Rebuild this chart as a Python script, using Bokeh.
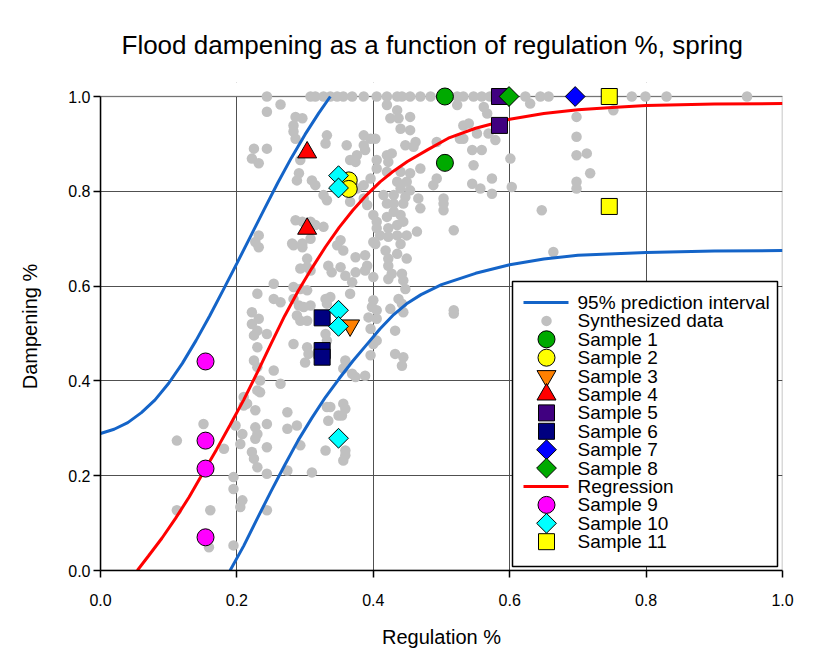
from bokeh.plotting import figure
from bokeh.models import Range1d, FixedTicker, BoxAnnotation, NumeralTickFormatter
from bokeh.core.properties import value
from bokeh.embed import file_html
from bokeh.resources import INLINE
import math

TITLE = "Flood dampening as a function of regulation %, spring"
X_LABEL = "Regulation %"
Y_LABEL = "Dampening %"
TICKS = [0.0, 0.2, 0.4, 0.6, 0.8, 1.0]

# regression curve
reg_x = [0.054, 0.07, 0.09, 0.11, 0.13, 0.15, 0.17, 0.19, 0.21, 0.23, 0.25, 0.27, 0.29,
         0.31, 0.33, 0.35, 0.37, 0.39, 0.41, 0.43, 0.45, 0.48, 0.51, 0.55, 0.60, 0.65,
         0.70, 0.75, 0.80, 0.90, 1.0]
reg_y = [0.0, 0.03, 0.068, 0.11, 0.155, 0.205, 0.255, 0.307, 0.36, 0.418, 0.478, 0.537,
         0.59, 0.638, 0.683, 0.724, 0.76, 0.792, 0.82, 0.843, 0.863, 0.888, 0.912, 0.933,
         0.952, 0.964, 0.972, 0.977, 0.981, 0.984, 0.985]

# 95% prediction interval, upper and lower
up_x = [0.0, 0.02, 0.04, 0.06, 0.08, 0.10, 0.12, 0.14, 0.16, 0.18, 0.20, 0.22, 0.24,
        0.26, 0.28, 0.30, 0.32, 0.337]
up_y = [0.289, 0.298, 0.312, 0.333, 0.36, 0.395, 0.437, 0.485, 0.537, 0.592, 0.648,
        0.705, 0.762, 0.818, 0.871, 0.92, 0.965, 1.0]
lo_x = [0.19, 0.21, 0.23, 0.25, 0.27, 0.29, 0.31, 0.33, 0.35, 0.37, 0.39, 0.41, 0.43,
        0.45, 0.47, 0.50, 0.55, 0.60, 0.65, 0.70, 0.80, 0.90, 1.0]
lo_y = [0.0, 0.052, 0.11, 0.167, 0.222, 0.275, 0.322, 0.366, 0.405, 0.442, 0.476, 0.51,
        0.54, 0.564, 0.582, 0.603, 0.627, 0.645, 0.657, 0.665, 0.671, 0.674, 0.675]

# synthesized data (x, y)
grey_points = [
    # top row
    (0.244, 1.0), (0.308, 1.0), (0.315, 1.0), (0.327, 1.0), (0.337, 1.0), (0.347, 1.0),
    (0.356, 1.0), (0.369, 1.0), (0.386, 1.0), (0.405, 1.0), (0.420, 1.0), (0.435, 1.0),
    (0.442, 1.0), (0.454, 1.0), (0.469, 1.0), (0.484, 1.0), (0.523, 1.0), (0.532, 1.0),
    (0.547, 1.0), (0.559, 1.0), (0.571, 1.0), (0.623, 1.0), (0.645, 1.0), (0.657, 1.0),
    (0.779, 1.0), (0.799, 1.0), (0.830, 1.0), (0.948, 1.0),
    # left cluster, upper
    (0.264, 0.983), (0.244, 0.968), (0.286, 0.957), (0.296, 0.954), (0.283, 0.939),
    (0.283, 0.926), (0.286, 0.911), (0.332, 0.918), (0.330, 0.901),
    (0.225, 0.890), (0.244, 0.890), (0.222, 0.869), (0.232, 0.859),
    (0.293, 0.866), (0.291, 0.838), (0.288, 0.823),
    (0.310, 0.823), (0.315, 0.813), (0.327, 0.792), (0.332, 0.781),
    (0.286, 0.739), (0.296, 0.736), (0.308, 0.736), (0.315, 0.729), (0.327, 0.725),
    (0.232, 0.707), (0.227, 0.693), (0.281, 0.690), (0.296, 0.690), (0.308, 0.700),
    # middle cluster, upper
    (0.420, 0.982), (0.435, 0.971), (0.454, 0.957), (0.425, 0.954), (0.437, 0.954),
    (0.523, 0.982), (0.440, 0.932), (0.454, 0.929),
    (0.386, 0.918), (0.396, 0.911), (0.403, 0.911),
    (0.361, 0.897), (0.386, 0.897), (0.388, 0.887), (0.376, 0.876), (0.366, 0.866),
    (0.374, 0.862), (0.405, 0.866), (0.420, 0.876), (0.427, 0.880), (0.422, 0.862),
    (0.447, 0.897), (0.459, 0.894), (0.462, 0.904), (0.493, 0.904), (0.527, 0.911),
    (0.532, 0.939), (0.405, 0.848), (0.420, 0.841), (0.440, 0.841), (0.454, 0.838),
    (0.469, 0.848), (0.493, 0.827), (0.488, 0.813), (0.435, 0.820), (0.449, 0.820),
    (0.440, 0.806), (0.454, 0.802), (0.396, 0.827), (0.386, 0.813), (0.376, 0.806),
    (0.415, 0.792), (0.430, 0.792), (0.420, 0.774), (0.430, 0.774), (0.447, 0.788),
    (0.444, 0.774), (0.466, 0.785), (0.469, 0.764), (0.503, 0.785), (0.503, 0.774),
    (0.503, 0.760), (0.400, 0.750), (0.405, 0.736), (0.420, 0.746), (0.430, 0.757),
    (0.440, 0.750), (0.444, 0.736), (0.435, 0.729), (0.422, 0.722), (0.405, 0.722),
    (0.391, 0.771), (0.386, 0.785), (0.366, 0.778), (0.410, 0.707), (0.422, 0.704),
    (0.435, 0.707), (0.449, 0.707), (0.464, 0.715), (0.518, 0.718), (0.400, 0.693),
    (0.352, 0.697), (0.347, 0.686),
    # left cluster, middle
    (0.232, 0.682), (0.283, 0.686), (0.296, 0.682), (0.303, 0.658), (0.293, 0.637),
    (0.303, 0.640), (0.308, 0.633), (0.334, 0.643), (0.339, 0.629), (0.254, 0.605),
    (0.283, 0.598), (0.293, 0.594), (0.303, 0.591), (0.230, 0.584), (0.254, 0.573),
    (0.264, 0.566), (0.283, 0.573), (0.291, 0.559), (0.298, 0.556), (0.308, 0.559),
    (0.330, 0.573), (0.332, 0.563), (0.222, 0.545), (0.232, 0.531), (0.222, 0.520),
    (0.230, 0.506), (0.225, 0.496), (0.244, 0.499), (0.288, 0.538), (0.303, 0.527),
    (0.293, 0.527), (0.230, 0.471), (0.283, 0.478), (0.303, 0.471), (0.305, 0.457),
    (0.300, 0.439), (0.330, 0.499), (0.332, 0.485), (0.225, 0.443), (0.230, 0.429),
    (0.254, 0.422), (0.264, 0.394), (0.234, 0.401), (0.210, 0.366), (0.215, 0.352),
    (0.230, 0.380), (0.234, 0.376),
    # middle cluster, middle
    (0.356, 0.675), (0.374, 0.661), (0.352, 0.640), (0.359, 0.622), (0.369, 0.608),
    (0.388, 0.665), (0.391, 0.643), (0.388, 0.633), (0.374, 0.629), (0.403, 0.689),
    (0.400, 0.619), (0.418, 0.675), (0.422, 0.658), (0.435, 0.668), (0.449, 0.658),
    (0.422, 0.643), (0.427, 0.626), (0.422, 0.615), (0.442, 0.626), (0.444, 0.612),
    (0.447, 0.594), (0.440, 0.689), (0.366, 0.584), (0.337, 0.577), (0.400, 0.570),
    (0.398, 0.556), (0.405, 0.549), (0.425, 0.552), (0.437, 0.573), (0.442, 0.563),
    (0.444, 0.545), (0.393, 0.534), (0.405, 0.531), (0.396, 0.510), (0.432, 0.506),
    (0.405, 0.485), (0.400, 0.478), (0.518, 0.549), (0.518, 0.542), (0.396, 0.454),
    (0.432, 0.457), (0.444, 0.450), (0.442, 0.432), (0.359, 0.443), (0.356, 0.426),
    (0.369, 0.415), (0.374, 0.408), (0.388, 0.411), (0.337, 0.345), (0.356, 0.352),
    (0.359, 0.341), (0.354, 0.327), (0.359, 0.253), (0.356, 0.232), (0.359, 0.243),
    # lower left
    (0.151, 0.309), (0.112, 0.274), (0.181, 0.257), (0.198, 0.306), (0.208, 0.288),
    (0.205, 0.267), (0.210, 0.348), (0.227, 0.338), (0.227, 0.302), (0.230, 0.288),
    (0.227, 0.278), (0.244, 0.309), (0.244, 0.260), (0.222, 0.250), (0.225, 0.236),
    (0.230, 0.218), (0.244, 0.204), (0.274, 0.334), (0.274, 0.299), (0.288, 0.306),
    (0.293, 0.264), (0.274, 0.211), (0.310, 0.207), (0.332, 0.345), (0.334, 0.316),
    (0.330, 0.253), (0.349, 0.327), (0.195, 0.197), (0.195, 0.172), (0.208, 0.148),
    (0.205, 0.134), (0.244, 0.127), (0.112, 0.127), (0.161, 0.127), (0.159, 0.049),
    (0.195, 0.053),
    # right side
    (0.562, 0.978), (0.567, 0.964), (0.630, 0.985), (0.698, 0.957), (0.752, 0.971),
    (0.540, 0.943), (0.532, 0.911), (0.552, 0.922), (0.569, 0.922), (0.579, 0.908),
    (0.545, 0.887), (0.559, 0.887), (0.547, 0.855), (0.698, 0.915), (0.698, 0.876),
    (0.713, 0.880), (0.718, 0.838), (0.601, 0.869), (0.545, 0.816), (0.557, 0.806),
    (0.574, 0.827), (0.574, 0.795), (0.603, 0.809), (0.698, 0.820), (0.698, 0.806),
    (0.647, 0.760), (0.664, 0.672),
]
grey_x = [pt[0] for pt in grey_points]
grey_y = [pt[1] for pt in grey_points]

# samples
s1_x, s1_y = [0.505, 0.505], [1.0, 0.86]
s2_x, s2_y = [0.364, 0.364], [0.823, 0.805]
s3_x, s3_y = [0.366], [0.517]
s4_x, s4_y = [0.303, 0.303], [0.882, 0.721]
s5_x, s5_y = [0.585, 0.585], [1.0, 0.939]
s6_x, s6_y = [0.325, 0.325, 0.325], [0.533, 0.464, 0.450]
s7_x, s7_y = [0.696], [1.0]
s8_x, s8_y = [0.599], [1.0]
s9_x, s9_y = [0.154, 0.154, 0.154, 0.154], [0.441, 0.274, 0.215, 0.07]
s10_x, s10_y = [0.349, 0.349, 0.349, 0.349, 0.349], [0.833, 0.807, 0.549, 0.515, 0.279]
s11_x, s11_y = [0.746, 0.746], [1.0, 0.768]

FONT = "Liberation Sans"
BLUE = "#1464C8"
RED = "#FF0000"
GREY = "#C0C0C0"
D = math.pi / 4

# frame geometry (pixels)
FRAME_W, FRAME_H = 682, 488
EXTRA = 14 / 474.0  # headroom above 1.0 so markers on the top edge are not clipped

p = figure(width=815, height=669, output_backend="svg", toolbar_location=None,
           x_range=Range1d(0, 1), y_range=Range1d(0, 1 + EXTRA),
           min_border_left=100, min_border_right=33, min_border_top=82, min_border_bottom=99,
           background_fill_color="white", border_fill_color="white")
p.outline_line_color = None
# pixel ranges for the legend overlay
p.extra_x_ranges = {"px": Range1d(0, FRAME_W)}
p.extra_y_ranges = {"py": Range1d(0, FRAME_H)}

p.title.text = TITLE
p.title.text_font = FONT
p.title.text_font_size = "26px"
p.title.text_font_style = "normal"
p.title.text_color = "black"
p.title.align = "left"
p.title.offset = 21
p.title.standoff = 46

for ax, lab in ((p.xaxis[0], X_LABEL), (p.yaxis[0], Y_LABEL)):
    ax.ticker = FixedTicker(ticks=TICKS)
    ax.formatter = NumeralTickFormatter(format="0.0")
    ax.bounds = (0, 1)
    ax.axis_label = lab
    ax.axis_label_text_font = FONT
    ax.axis_label_text_font_size = "20px"
    ax.axis_label_text_font_style = "normal"
    ax.axis_label_text_color = "black"
    ax.major_label_text_font = FONT
    ax.major_label_text_font_size = "16px"
    ax.major_label_text_color = "black"
    ax.major_tick_out = 7
    ax.major_tick_in = 0
    ax.minor_tick_line_color = None
    ax.axis_line_width = 1.5
    ax.major_tick_line_width = 1.5
p.xaxis.major_label_standoff = 16
p.xaxis.axis_label_standoff = 17
p.yaxis.major_label_standoff = 3
p.yaxis.axis_label_standoff = 24

for g in (p.xgrid[0], p.ygrid[0]):
    g.ticker = FixedTicker(ticks=TICKS)
    g.grid_line_color = "#505050"
    g.grid_line_width = 1

# hide grid in the headroom strip, draw the frame box
p.add_layout(BoxAnnotation(bottom=1.0, fill_color="white", fill_alpha=1.0,
                           line_color=None, level="underlay"))
p.add_layout(BoxAnnotation(left=0, right=1, bottom=0, top=1, fill_color=None,
                           line_color="black", line_width=1.5, level="underlay"))

p.scatter(grey_x, grey_y, size=10.5, color=GREY, line_color=None)
p.line(up_x, up_y, line_color=BLUE, line_width=3)
p.line(lo_x, lo_y, line_color=BLUE, line_width=3)
p.line(reg_x, reg_y, line_color=RED, line_width=3)

samples = [
    (s1_x, s1_y, dict(marker="circle", size=17, fill_color="#00AA00")),
    (s2_x, s2_y, dict(marker="circle", size=17, fill_color="#FFFF00")),
    (s3_x, s3_y, dict(marker="inverted_triangle", size=19, fill_color="#FF8000")),
    (s4_x, s4_y, dict(marker="triangle", size=19, fill_color="#FF0000")),
    (s5_x, s5_y, dict(marker="square", size=16, fill_color="#400080")),
    (s6_x, s6_y, dict(marker="square", size=16, fill_color="#000080")),
    (s7_x, s7_y, dict(marker="square", angle=D, size=14, fill_color="#0000FF")),
    (s8_x, s8_y, dict(marker="square", angle=D, size=14, fill_color="#00AA00")),
    (s9_x, s9_y, dict(marker="circle", size=17, fill_color="#FF00FF")),
    (s10_x, s10_y, dict(marker="square", angle=D, size=14, fill_color="#00FFFF")),
    (s11_x, s11_y, dict(marker="square", size=16, fill_color="#FFFF00")),
]
for sx, sy, st in samples:
    p.scatter(sx, sy, line_color="black", line_width=1, **st)

# ---- legend (drawn in frame pixel coordinates) ----
legend_labels = ["95% prediction interval", "Synthesized data", "Sample 1", "Sample 2",
                 "Sample 3", "Sample 4", "Sample 5", "Sample 6", "Sample 7", "Sample 8",
                 "Regression", "Sample 9", "Sample 10", "Sample 11"]
legend_glyphs = [("line", BLUE), ("grey", None)] + [("s", i) for i in range(8)] + \
                [("line", RED)] + [("s", i) for i in range(8, 11)]
LEG_L, LEG_R, LEG_B, LEG_T = 412, 677, 4, 289
ROW0, ROW_STEP = 268, 18.4
GX, GX0, GX1, TX = 446, 423, 468, 477

PX = dict(x_range_name="px", y_range_name="py")
p.quad(left=[LEG_L], right=[LEG_R], bottom=[LEG_B], top=[LEG_T], fill_color="white",
       line_color="black", line_width=1.5, **PX)
rows = [ROW0 - ROW_STEP * i for i in range(len(legend_labels))]
for (kind, ref), ry in zip(legend_glyphs, rows):
    if kind == "line":
        p.line([GX0, GX1], [ry, ry], line_color=ref, line_width=3, **PX)
    elif kind == "grey":
        p.scatter([GX], [ry], size=10.5, color=GREY, line_color=None, **PX)
    else:
        p.scatter([GX], [ry], line_color="black", line_width=1, **samples[ref][2], **PX)
p.text(x=[TX] * len(rows), y=rows, text=legend_labels, text_font=value(FONT),
       text_font_size="19px", text_baseline="middle", text_align="left",
       text_color="black", **PX)

open("out.html", "w").write(file_html(p, INLINE))
